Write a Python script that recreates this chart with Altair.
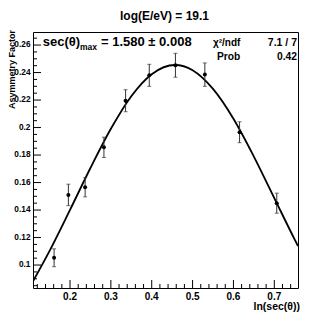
import altair as alt
import pandas as pd

# ---- data ----
pt_x = [0.161, 0.196, 0.237, 0.283, 0.336, 0.394, 0.458, 0.530, 0.615, 0.706]
pt_y = [0.1053, 0.151, 0.1566, 0.1856, 0.2195, 0.238, 0.2453, 0.2385, 0.1966, 0.145]
pt_err = [0.0065, 0.0078, 0.007, 0.0074, 0.008, 0.008, 0.0087, 0.0085, 0.0076, 0.0073]

fit_x = [0.109, 0.15, 0.20, 0.25, 0.30, 0.35, 0.40, 0.457, 0.50, 0.55, 0.60, 0.65, 0.70, 0.75, 0.758]
fit_y = [0.0880, 0.1103, 0.1401, 0.1706, 0.1991, 0.2228, 0.2388, 0.2455, 0.2417, 0.2281,
         0.2064, 0.1789, 0.1487, 0.1185, 0.1138]

x_major = [0.2, 0.3, 0.4, 0.5, 0.6, 0.7]
x_labels = ["0.2", "0.3", "0.4", "0.5", "0.6", "0.7"]
x_minor = [0.12, 0.14, 0.16, 0.18, 0.22, 0.24, 0.26, 0.28, 0.32, 0.34, 0.36, 0.38,
           0.42, 0.44, 0.46, 0.48, 0.52, 0.54, 0.56, 0.58, 0.62, 0.64, 0.66, 0.68,
           0.72, 0.74]
y_major = [0.10, 0.12, 0.14, 0.16, 0.18, 0.20, 0.22, 0.24, 0.26]
y_labels = ["0.1", "0.12", "0.14", "0.16", "0.18", "0.2", "0.22", "0.24", "0.26"]
y_minor = [0.085, 0.09, 0.095, 0.105, 0.11, 0.115, 0.125, 0.13, 0.135, 0.145, 0.15, 0.155,
           0.165, 0.17, 0.175, 0.185, 0.19, 0.195, 0.205, 0.21, 0.215, 0.225, 0.23, 0.235,
           0.245, 0.25, 0.255, 0.265]

title_text = "log(E/eV) = 19.1"
x_title = "ln(sec(θ))"
y_title = "Asymmetry Factor"

XDOM = [0.1094, 0.758]
YDOM = [0.0833, 0.2695]
W, H = 265, 256
FONT = "Liberation Sans"

pts = pd.DataFrame({"x": pt_x, "y": pt_y,
                    "lo": [a - b for a, b in zip(pt_y, pt_err)],
                    "hi": [a + b for a, b in zip(pt_y, pt_err)]})
fit = pd.DataFrame({"x": fit_x, "y": fit_y})

xs = alt.Scale(domain=XDOM, nice=False, zero=False)
ys = alt.Scale(domain=YDOM, nice=False, zero=False)

NX = lambda f: alt.X(f, scale=xs, axis=None)
NY = lambda f: alt.Y(f, scale=ys, axis=None)

curve = alt.Chart(fit).mark_line(color="black", strokeWidth=1.8, interpolate="monotone", clip=True).encode(
    x=NX("x:Q"), y=NY("y:Q"))

bars = alt.Chart(pts).mark_rule(color="#333333", strokeWidth=1).encode(
    x=NX("x:Q"), y=NY("lo:Q"), y2="hi:Q")
cap_lo = alt.Chart(pts).mark_tick(color="#333333", thickness=1, size=4, orient="horizontal").encode(
    x=NX("x:Q"), y=NY("lo:Q"))
cap_hi = alt.Chart(pts).mark_tick(color="#333333", thickness=1, size=4, orient="horizontal").encode(
    x=NX("x:Q"), y=NY("hi:Q"))
dots = alt.Chart(pts).mark_circle(color="black", opacity=1, size=16).encode(
    x=NX("x:Q"), y=NY("y:Q"))

# inner ticks
xmaj = alt.Chart(pd.DataFrame({"v": x_major})).mark_rule(color="black", strokeWidth=1).encode(
    x=NX("v:Q"), y=alt.value(H), y2=alt.value(H - 8))
xmin = alt.Chart(pd.DataFrame({"v": x_minor})).mark_rule(color="black", strokeWidth=1).encode(
    x=NX("v:Q"), y=alt.value(H), y2=alt.value(H - 4))
ymaj = alt.Chart(pd.DataFrame({"v": y_major})).mark_rule(color="black", strokeWidth=1).encode(
    y=NY("v:Q"), x=alt.value(0), x2=alt.value(8))
ymin = alt.Chart(pd.DataFrame({"v": y_minor})).mark_rule(color="black", strokeWidth=1).encode(
    y=NY("v:Q"), x=alt.value(0), x2=alt.value(4))

# tick labels
xlab = alt.Chart(pd.DataFrame({"v": x_major, "t": x_labels})).mark_text(
    font=FONT, fontWeight="bold", fontSize=10, color="black", align="center", baseline="top").encode(
    x=NX("v:Q"), y=alt.value(H + 3.5), text="t:N")
ylab = alt.Chart(pd.DataFrame({"v": y_major, "t": y_labels})).mark_text(
    font=FONT, fontWeight="bold", fontSize=8.3, color="black", align="right", baseline="middle").encode(
    y=NY("v:Q"), x=alt.value(-2.5), text="t:N")

def txt(text, x, y, size, align="left", weight="bold", angle=0, baseline="alphabetic"):
    kw = dict(text=text, font=FONT, fontSize=size, fontWeight=weight, align=align,
              baseline=baseline, color="black")
    if angle:
        kw["angle"] = angle
    return alt.Chart(pd.DataFrame({"a": [0]})).mark_text(**kw).encode(
        x=alt.value(x), y=alt.value(y))

texts = [
    txt(title_text, 131.5, -12, 12, align="center"),
    txt(y_title, -18.4, -2, 9, align="right", angle=270),
    txt(x_title, 267, 278, 10.5, align="right"),
    txt("sec(θ)", 9.7, 13.7, 13),
    txt("max", 47, 18, 8.5),
    txt("= 1.580 ± 0.008", 68, 13.7, 13),
    txt("χ²/ndf", 180, 14, 10),
    txt("7.1 / 7", 264, 14, 10.5, align="right"),
    txt("Prob", 184, 28, 10.2),
    txt("0.42", 264, 28, 10.3, align="right"),
]

chart = alt.layer(curve, bars, cap_lo, cap_hi, dots, xmaj, xmin, ymaj, ymin, xlab, ylab, *texts).properties(
    width=W, height=H,
    autosize=alt.AutoSizeParams(type="none"),
    padding={"left": 25, "top": 24, "right": 26, "bottom": 25},
    background="white",
).configure_view(stroke="black", strokeWidth=1)

chart.save("out.html", embed_options={"renderer": "svg", "actions": False})
